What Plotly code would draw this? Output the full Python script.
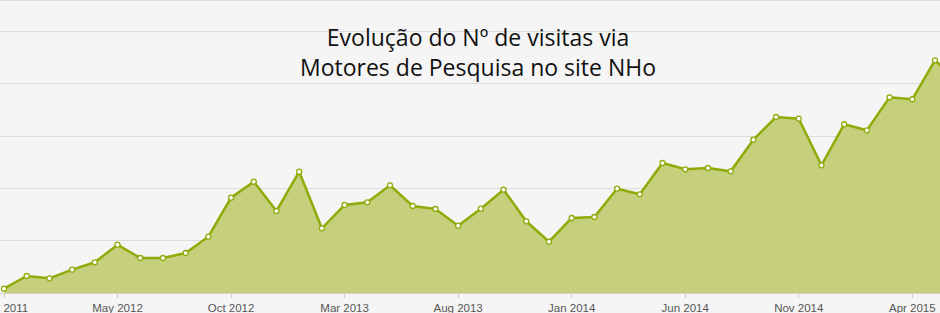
import plotly.graph_objects as go

months = ["Dec 2011", "Jan 2012", "Feb 2012", "Mar 2012", "Apr 2012", "May 2012", "Jun 2012",
          "Jul 2012", "Aug 2012", "Sep 2012", "Oct 2012", "Nov 2012", "Dec 2012",
          "Jan 2013", "Feb 2013", "Mar 2013", "Apr 2013", "May 2013", "Jun 2013",
          "Jul 2013", "Aug 2013", "Sep 2013", "Oct 2013", "Nov 2013", "Dec 2013",
          "Jan 2014", "Feb 2014", "Mar 2014", "Apr 2014", "May 2014", "Jun 2014",
          "Jul 2014", "Aug 2014", "Sep 2014", "Oct 2014", "Nov 2014", "Dec 2014",
          "Jan 2015", "Feb 2015", "Mar 2015", "Apr 2015", "May 2015", "Jun 2015"]
visits = [82, 325, 281, 446, 587, 924, 669, 669, 765, 1077, 1822, 2128, 1568,
          2319, 1237, 1683, 1734, 2059, 1663, 1606, 1287, 1612, 1975, 1371, 981,
          1434, 1453, 1994, 1887, 2486, 2365, 2390, 2327, 2931, 3365, 3333, 2442,
          3226, 3111, 3742, 3704, 4449, 4034]
tick_labels = ["Dec 2011", "May 2012", "Oct 2012", "Mar 2013", "Aug 2013",
               "Jan 2014", "Jun 2014", "Nov 2014", "Apr 2015"]
title_lines = ["Evolução do Nº de visitas via", "Motores de Pesquisa no site NHo"]

idx = list(range(len(months)))
tick_idx = [months.index(t) for t in tick_labels]

fig = go.Figure()
fig.add_trace(go.Scatter(
    x=idx, y=visits, mode="lines+markers",
    line=dict(color="#8fab0a", width=2.5),
    fill="tozeroy", fillcolor="#c6cf7c",
    marker=dict(size=5, color="white", symbol="circle",
                line=dict(color="#8fab0a", width=1.3)),
    hoverinfo="skip", showlegend=False,
))

fig.update_layout(
    width=940, height=313,
    margin=dict(l=0, r=0, t=0, b=20),
    paper_bgcolor="#f5f5f5", plot_bgcolor="#f5f5f5",
    xaxis=dict(
        range=[-0.176, 41.22], tickmode="array", tickvals=tick_idx, ticktext=tick_labels,
        showgrid=False, zeroline=False, showline=True, linecolor="#d0d0d0", linewidth=1,
        ticks="outside", ticklen=4, tickcolor="#c8c8c8",
        tickfont=dict(family="Liberation Sans, Arial, sans-serif", size=11.5, color="#555555"),
        ticklabeloverflow="allow", automargin=False,
    ),
    yaxis=dict(
        range=[0, 5602], dtick=1000, showticklabels=False, showgrid=True,
        gridcolor="#dcdcdc", gridwidth=1, zeroline=False, fixedrange=True, automargin=False,
    ),
    annotations=[dict(
        x=0.509, y=0.935, xref="paper", yref="paper", xanchor="center", yanchor="top",
        text="<br>".join(title_lines), showarrow=False, align="center",
        font=dict(family="Open Sans, Noto Sans, sans-serif", size=23, color="#111111"),
    )],
    shapes=[dict(type="line", xref="paper", yref="paper", x0=0, x1=1, y0=1, y1=1,
                 line=dict(color="#dcdcdc", width=2))],
)

fig.write_html("out.html")
